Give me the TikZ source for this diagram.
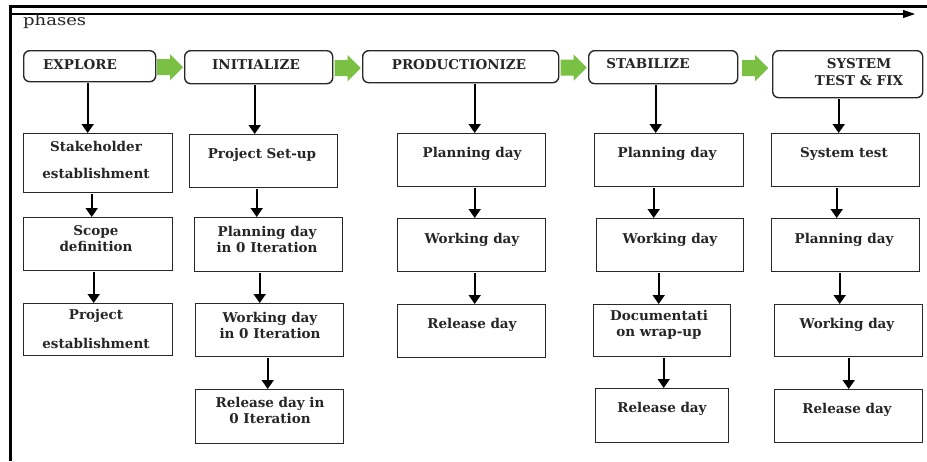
\documentclass[tikz,border=0pt]{standalone}
\usepackage{fontspec}
\setmainfont{DejaVu Serif}
\newfontfamily\phasefont[FakeStretch=1.2]{DejaVu Serif}
\usetikzlibrary{arrows.meta,calc}
\definecolor{garrowc}{RGB}{122,193,67}
\definecolor{linec}{RGB}{40,40,40}
\begin{document}
\begin{tikzpicture}[x=1pt,y=-1pt,
  box/.style={draw=linec, line width=1.4pt, anchor=north west, inner sep=0pt},
  phasebox/.style={box, rounded corners=6pt},
  txt/.style={font=\fontsize{13.5}{16}\selectfont\bfseries, inner sep=0pt, align=center, text=black!85},
  arr/.style={draw=black, line width=1.8pt, -{Triangle[width=12pt,length=9pt]}},
  garrow/.style={fill=garrowc},
]
\useasboundingbox (0,0) rectangle (927,461);
\fill[white] (0,0) rectangle (927,461);

% frame
\coordinate (fb) at (10,461);
\coordinate (fc) at (10,6);
\coordinate (fr) at (927,6);
\draw[line width=3pt] (fb) -- (fc) -- (fr);
\coordinate (ts) at (12,14);
\coordinate (te) at (915,14);
\draw[line width=1.1pt, -{Triangle[width=8pt,length=12pt]}] (ts) -- (te);
\node[anchor=base west, inner sep=0pt, font=\phasefont\fontsize{15}{17}\selectfont, text=black!85] (ph) at (23,25) {phases};

% phase boxes
\node[phasebox, minimum width=132pt, minimum height=31pt] (p1) at (23,50) {};
\node[phasebox, minimum width=148pt, minimum height=33pt] (p2) at (184,50) {};
\node[phasebox, minimum width=196pt, minimum height=32pt] (p3) at (362,50) {};
\node[phasebox, minimum width=149pt, minimum height=33pt] (p4) at (588,50) {};
\node[phasebox, minimum width=150pt, minimum height=47pt] (p5) at (772,50) {};
\node[txt] (tp1) at (80,65) {EXPLORE};
\node[txt] (tp2) at (256,65) {INITIALIZE};
\node[txt] (tp3) at (459,65) {PRODUCTIONIZE};
\node[txt] (tp4) at (648,64) {STABILIZE};
\node[txt, font=\fontsize{13.5}{17}\selectfont\bfseries] (tp5) at (859,72) {SYSTEM\\TEST \& FIX};

% green arrows
\foreach \a/\b/\g in {p1/p2/g1,p2/p3/g2,p3/p4/g3,p4/p5/g4}{
  \path (\a.east) -- (\a.east -| \b.west) coordinate[midway] (\g);
  \fill[garrow] ($(\g)+(-13,-7)$) -- ++(13,0) -- ++(0,-5) -- ++(13,13) -- ++(-13,13) -- ++(0,-5) -- ++(-13,0) -- cycle;
}

% column 1
\node[box, minimum width=149pt, minimum height=59pt] (a1) at (23,133) {};
\node[box, minimum width=149pt, minimum height=53pt] (a2) at (23,217) {};
\node[box, minimum width=149pt, minimum height=52pt] (a3) at (23,303) {};
\node[txt] (ta1a) at (96,146) {Stakeholder};
\node[txt] (ta1b) at (96,173) {establishment};
\node[txt] (ta2) at (96,239) {Scope\\definition};
\node[txt] (ta3a) at (96,316) {Project};
\node[txt] (ta3b) at (96,343) {establishment};

% column 2
\node[box, minimum width=148pt, minimum height=53pt] (b1) at (189,134) {};
\node[box, minimum width=148pt, minimum height=54pt] (b2) at (194,217) {};
\node[box, minimum width=148pt, minimum height=53pt] (b3) at (195,303) {};
\node[box, minimum width=148pt, minimum height=54pt] (b4) at (195,389) {};
\node[txt] (tb1) at (262,155) {Project Set-up};
\node[txt] (tb2) at (267,239) {Planning day\\in 0 Iteration};
\node[txt] (tb3) at (270,325) {Working day\\in 0 Iteration};
\node[txt] (tb4) at (270,410) {Release day in\\0 Iteration};

% column 3
\node[box, minimum width=148pt, minimum height=53pt] (c1) at (397,133) {};
\node[box, minimum width=148pt, minimum height=53pt] (c2) at (397,218) {};
\node[box, minimum width=148pt, minimum height=53pt] (c3) at (397,304) {};
\node[txt] (tc1) at (472,154) {Planning day};
\node[txt] (tc2) at (472,240) {Working day};
\node[txt] (tc3) at (472,325) {Release day};

% column 4
\node[box, minimum width=149pt, minimum height=53pt] (d1) at (594,133) {};
\node[box, minimum width=147pt, minimum height=53pt] (d2) at (596,218) {};
\node[box, minimum width=137pt, minimum height=52pt] (d3) at (593,304) {};
\node[box, minimum width=133pt, minimum height=54pt] (d4) at (595,388) {};
\node[txt] (td1) at (667,154) {Planning day};
\node[txt] (td2) at (670,240) {Working day};
\node[txt] (td3) at (659,325) {Documentati\\on wrap-up};
\node[txt] (td4) at (662,409) {Release day};

% column 5
\node[box, minimum width=148pt, minimum height=53pt] (e1) at (771,133) {};
\node[box, minimum width=148pt, minimum height=53pt] (e2) at (771,218) {};
\node[box, minimum width=148pt, minimum height=52pt] (e3) at (774,304) {};
\node[box, minimum width=148pt, minimum height=53pt] (e4) at (774,389) {};
\node[txt] (te1) at (844,154) {System test};
\node[txt] (te2) at (844,240) {Planning day};
\node[txt] (te3) at (847,325) {Working day};
\node[txt] (te4) at (847,410) {Release day};

% vertical arrows
\foreach \s/\t/\dx in {p1/a1/-2, a1/a2/-6.5, a2/a3/-4.5,
                       p2/b1/-4, b1/b2/-7, b2/b3/-9, b3/b4/-2,
                       p3/c1/14, c1/c2/3, c2/c3/3,
                       p4/d1/-7.5, d1/d2/-15.5, d2/d3/-11.5, d3/d4/1.5,
                       p5/e1/-9, e1/e2/-9, e2/e3/-6, e3/e4/0}{
  \draw[arr] ([xshift=\dx pt, yshift=-1pt]\s.south) -- ([xshift=\dx pt]\s.south |- \t.north);
}
\end{tikzpicture}
\end{document}
